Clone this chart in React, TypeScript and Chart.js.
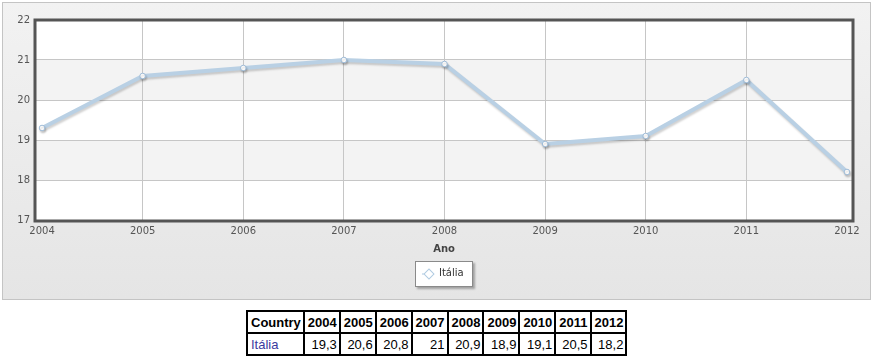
import React, { useEffect, useRef } from "react";
import { Chart, registerables } from "chart.js";

Chart.register(...registerables);

const years = [2004, 2005, 2006, 2007, 2008, 2009, 2010, 2011, 2012];
const values = [19.3, 20.6, 20.8, 21, 20.9, 18.9, 19.1, 20.5, 18.2];
const yTicks = [17, 18, 19, 20, 21, 22];
const seriesName = "Itália";
const axisTitle = "Ano";
const tableHeader = "Country";

const FONT = "'DejaVu Sans', Verdana, sans-serif";
const TEXT = "#555";

export default function App() {
  const ref = useRef<HTMLCanvasElement>(null);

  useEffect(() => {
    if (!ref.current) return;

    const bands = {
      id: "bands",
      beforeDraw(chart: any) {
        const { ctx, chartArea, scales } = chart;
        const { left, right, top, bottom } = chartArea;
        ctx.save();
        ctx.fillStyle = "#ffffff";
        ctx.fillRect(left, top, right - left, bottom - top);
        ctx.fillStyle = "#f3f3f3";
        for (let i = 0; i < yTicks.length - 1; i++) {
          if (i % 2 === 1) {
            const y1 = scales.y.getPixelForValue(yTicks[i]);
            const y2 = scales.y.getPixelForValue(yTicks[i + 1]);
            ctx.fillRect(left, y2, right - left, y1 - y2);
          }
        }
        ctx.restore();
      },
      beforeDatasetsDraw(chart: any) {
        const { ctx, chartArea } = chart;
        const { left, right, top, bottom } = chartArea;
        ctx.save();
        ctx.strokeStyle = "#555555";
        ctx.lineWidth = 3;
        ctx.strokeRect(left, top, right - left, bottom - top + 1);
        ctx.restore();
      },
      beforeDatasetDraw(chart: any) {
        const ctx = chart.ctx;
        ctx.save();
        ctx.shadowColor = "rgba(0,0,0,0.18)";
        ctx.shadowBlur = 2;
        ctx.shadowOffsetX = 1;
        ctx.shadowOffsetY = 2;
      },
      afterDatasetDraw(chart: any) {
        chart.ctx.restore();
      },
    };

    const chart = new Chart(ref.current, {
      type: "line",
      data: {
        datasets: [
          {
            label: seriesName,
            data: years.map((yr, i) => ({ x: yr, y: values[i] })),
            borderColor: "#b9d0e4",
            borderWidth: 4,
            pointRadius: 2.8,
            pointBackgroundColor: "#ffffff",
            pointBorderColor: "#9fbcd8",
            pointBorderWidth: 1,
            tension: 0,
          },
        ],
      },
      options: {
        responsive: false,
        animation: false,
        layout: { padding: { left: 0, right: 27, top: 20, bottom: 40 } },
        plugins: { legend: { display: false }, tooltip: { enabled: false } },
        scales: {
          x: {
            type: "linear",
            min: years[0] - 0.07,
            max: years[years.length - 1] + 0.06,
            afterBuildTicks: (s: any) => {
              s.ticks = years.map((v) => ({ value: v }));
            },
            afterFit: (s: any) => {
              s.height = 40;
            },
            ticks: {
              callback: (v: any) => String(v),
              color: TEXT,
              font: { family: FONT, size: 10 },
              padding: 5,
              maxRotation: 0,
              autoSkip: false,
            },
            grid: {
              color: (c: any) =>
                c.index === 0 || c.index === years.length - 1 ? "rgba(0,0,0,0)" : "#c6c6c6",
              drawTicks: false,
            },
            border: { display: false },
            title: {
              display: true,
              text: axisTitle,
              color: "#444",
              font: { family: FONT, size: 10, weight: "bold" },
              padding: { top: 0, bottom: 5 },
            },
          },
          y: {
            min: yTicks[0],
            max: yTicks[yTicks.length - 1],
            afterBuildTicks: (s: any) => {
              s.ticks = yTicks.map((v) => ({ value: v }));
            },
            afterFit: (s: any) => {
              s.width = 35;
            },
            ticks: {
              color: TEXT,
              font: { family: FONT, size: 10 },
              padding: 5,
            },
            grid: { color: "#c6c6c6", drawTicks: false },
            border: { display: false },
          },
        },
      },
      plugins: [bands],
    });
    return () => chart.destroy();
  }, []);

  const fmt = (v: number) => String(v).replace(".", ",");
  const cell: React.CSSProperties = {
    border: "1px solid #000",
    padding: "0 2px 0 3px",
    height: 20,
  };

  return (
    <div style={{ position: "absolute", left: 0, top: 0, width: 880, height: 360, background: "#fff" }}>
      <div
        style={{
          position: "absolute",
          left: 2,
          top: 2,
          width: 867,
          height: 296,
          border: "1px solid #c4c4c4",
          background: "linear-gradient(#f2f2f2, #e5e5e5)",
        }}
      />
      <canvas
        ref={ref}
        width={880}
        height={300}
        style={{ position: "absolute", left: 0, top: 0, width: 880, height: 300 }}
      />
      <div
        style={{
          position: "absolute",
          left: 415,
          top: 261,
          width: 56,
          height: 24,
          background: "#fff",
          border: "1px solid #8a8a8a",
          boxShadow: "2px 2px 2px rgba(0,0,0,0.3)",
          fontFamily: FONT,
          fontSize: 10,
          color: "#333",
        }}
      >
        <div style={{ position: "absolute", left: 6, top: 11, width: 12, height: 2, background: "#d3e2ef" }} />
        <div
          style={{
            position: "absolute",
            left: 9,
            top: 8,
            width: 6,
            height: 6,
            background: "#fff",
            border: "1px solid #b0cbe2",
            transform: "rotate(45deg)",
          }}
        />
        <div style={{ position: "absolute", left: 23, top: 5 }}>{seriesName}</div>
      </div>
      <table
        style={{
          position: "absolute",
          left: 246,
          top: 310,
          borderCollapse: "separate",
          borderSpacing: 0,
          border: "1px solid #000",
          fontFamily: "'Liberation Sans', Arial, sans-serif",
          fontSize: 13,
          color: "#000",
        }}
      >
        <tbody>
          <tr>
            <th style={{ ...cell, textAlign: "left" }}>{tableHeader}</th>
            {years.map((y) => (
              <th key={y} style={cell}>
                {y}
              </th>
            ))}
          </tr>
          <tr>
            <td style={{ ...cell, color: "#3a3a9e", textAlign: "left" }}>{seriesName}</td>
            {values.map((v, i) => (
              <td key={i} style={{ ...cell, textAlign: "right" }}>
                {fmt(v)}
              </td>
            ))}
          </tr>
        </tbody>
      </table>
    </div>
  );
}
